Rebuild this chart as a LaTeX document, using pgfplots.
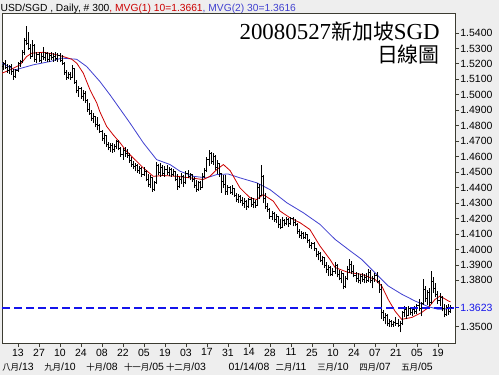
\documentclass[border=0pt]{standalone}
\usepackage{fontspec}
\setmainfont{Liberation Sans}
\newfontfamily\cjk{Noto Sans CJK TC}
\newfontfamily\serif{Liberation Serif}
\usepackage{pgfplots}
\pgfplotsset{compat=1.18}
\usepackage{pgfplotstable}
\definecolor{bgc}{RGB}{238,238,238}
\definecolor{framec}{RGB}{60,60,50}
\definecolor{mared}{RGB}{204,0,0}
\definecolor{mablue}{RGB}{64,64,208}
\definecolor{dashc}{RGB}{20,20,235}
\pgfdeclareplotmark{ohlcopen}{\pgfpathmoveto{\pgfqpoint{-1.6bp}{0pt}}\pgfpathlineto{\pgfqpoint{0pt}{0pt}}\pgfusepathqstroke}
\pgfdeclareplotmark{ohlcclose}{\pgfpathmoveto{\pgfqpoint{0pt}{0pt}}\pgfpathlineto{\pgfqpoint{1.6bp}{0pt}}\pgfusepathqstroke}
\pgfdeclareplotmark{nothing}{}

\pgfplotstableread{
x o h l c
-7 1.5180 1.5215 1.5160 1.5200
-6 1.5200 1.5226 1.5170 1.5175
-5 1.5175 1.5200 1.5140 1.5160
-4 1.5160 1.5195 1.5135 1.5185
-3 1.5185 1.5200 1.5130 1.5150
-2 1.5150 1.5165 1.5097 1.5120
-1 1.5120 1.5170 1.5110 1.5160
0 1.5160 1.5215 1.5150 1.5205
1 1.5205 1.5226 1.5180 1.5215
2 1.5215 1.5290 1.5205 1.5275
3 1.5275 1.5368 1.5258 1.5350
4 1.5350 1.5445 1.5323 1.5330
5 1.5330 1.5407 1.5290 1.5300
6 1.5300 1.5329 1.5232 1.5250
7 1.5250 1.5355 1.5245 1.5320
8 1.5320 1.5330 1.5213 1.5230
9 1.5230 1.5277 1.5206 1.5260
10 1.5260 1.5275 1.5210 1.5225
11 1.5225 1.5270 1.5206 1.5250
12 1.5250 1.5310 1.5226 1.5240
13 1.5240 1.5277 1.5220 1.5265
14 1.5265 1.5275 1.5215 1.5230
15 1.5230 1.5270 1.5213 1.5255
16 1.5255 1.5277 1.5225 1.5240
17 1.5240 1.5268 1.5215 1.5250
18 1.5250 1.5275 1.5220 1.5235
19 1.5235 1.5270 1.5213 1.5255
20 1.5255 1.5270 1.5215 1.5225
21 1.5225 1.5258 1.5194 1.5205
22 1.5205 1.5210 1.5129 1.5145
23 1.5145 1.5160 1.5097 1.5110
24 1.5110 1.5148 1.5100 1.5130
25 1.5130 1.5145 1.5097 1.5115
26 1.5115 1.5194 1.5110 1.5170
27 1.5170 1.5175 1.5070 1.5080
28 1.5080 1.5097 1.5010 1.5030
29 1.5030 1.5060 1.4987 1.5040
30 1.5040 1.5050 1.4975 1.4990
31 1.4990 1.5032 1.4960 1.5010
32 1.5010 1.5025 1.4948 1.4960
33 1.4960 1.4970 1.4890 1.4905
34 1.4905 1.4948 1.4870 1.4880
35 1.4880 1.4900 1.4830 1.4845
36 1.4845 1.4880 1.4819 1.4860
37 1.4860 1.4865 1.4790 1.4810
38 1.4810 1.4858 1.4770 1.4800
39 1.4800 1.4810 1.4755 1.4765
40 1.4765 1.4774 1.4700 1.4715
41 1.4715 1.4750 1.4680 1.4735
42 1.4735 1.4740 1.4665 1.4680
43 1.4680 1.4697 1.4640 1.4660
44 1.4660 1.4690 1.4630 1.4675
45 1.4675 1.4690 1.4626 1.4645
46 1.4645 1.4680 1.4630 1.4665
47 1.4665 1.4710 1.4650 1.4695
48 1.4695 1.4705 1.4640 1.4650
49 1.4650 1.4665 1.4600 1.4615
50 1.4615 1.4658 1.4581 1.4640
51 1.4640 1.4660 1.4600 1.4620
52 1.4620 1.4650 1.4594 1.4610
53 1.4610 1.4626 1.4560 1.4575
54 1.4575 1.4600 1.4535 1.4550
55 1.4550 1.4575 1.4520 1.4535
56 1.4535 1.4561 1.4505 1.4545
57 1.4545 1.4555 1.4497 1.4510
58 1.4510 1.4540 1.4490 1.4525
59 1.4525 1.4535 1.4471 1.4485
60 1.4485 1.4530 1.4475 1.4505
61 1.4505 1.4516 1.4440 1.4455
62 1.4455 1.4490 1.4406 1.4420
63 1.4420 1.4484 1.4400 1.4465
64 1.4465 1.4470 1.4374 1.4390
65 1.4390 1.4440 1.4380 1.4430
66 1.4430 1.4568 1.4425 1.4540
67 1.4540 1.4555 1.4480 1.4495
68 1.4495 1.4561 1.4471 1.4530
69 1.4530 1.4548 1.4475 1.4490
70 1.4490 1.4540 1.4471 1.4520
71 1.4520 1.4545 1.4480 1.4500
72 1.4500 1.4535 1.4475 1.4515
73 1.4515 1.4529 1.4471 1.4485
74 1.4485 1.4520 1.4475 1.4505
75 1.4505 1.4510 1.4440 1.4455
76 1.4455 1.4490 1.4387 1.4410
77 1.4410 1.4470 1.4400 1.4455
78 1.4455 1.4497 1.4420 1.4470
79 1.4470 1.4480 1.4406 1.4430
80 1.4430 1.4505 1.4420 1.4490
81 1.4490 1.4516 1.4460 1.4470
82 1.4470 1.4497 1.4452 1.4485
83 1.4485 1.4490 1.4439 1.4455
84 1.4455 1.4471 1.4400 1.4415
85 1.4415 1.4450 1.4374 1.4390
86 1.4390 1.4445 1.4380 1.4430
87 1.4430 1.4440 1.4385 1.4400
88 1.4400 1.4497 1.4395 1.4470
89 1.4470 1.4529 1.4460 1.4510
90 1.4510 1.4600 1.4500 1.4580
91 1.4580 1.4645 1.4540 1.4620
92 1.4620 1.4630 1.4555 1.4570
93 1.4570 1.4625 1.4545 1.4600
94 1.4600 1.4610 1.4516 1.4530
95 1.4530 1.4581 1.4490 1.4555
96 1.4555 1.4560 1.4471 1.4490
97 1.4490 1.4497 1.4368 1.4440
98 1.4440 1.4480 1.4400 1.4420
99 1.4420 1.4484 1.4355 1.4375
100 1.4375 1.4419 1.4355 1.4400
101 1.4400 1.4410 1.4360 1.4370
102 1.4370 1.4415 1.4355 1.4395
103 1.4395 1.4400 1.4340 1.4350
104 1.4350 1.4368 1.4310 1.4325
105 1.4325 1.4360 1.4303 1.4340
106 1.4340 1.4350 1.4300 1.4315
107 1.4315 1.4342 1.4280 1.4300
108 1.4300 1.4330 1.4271 1.4310
109 1.4310 1.4320 1.4258 1.4280
110 1.4280 1.4335 1.4270 1.4320
111 1.4320 1.4340 1.4275 1.4290
112 1.4290 1.4330 1.4265 1.4305
113 1.4305 1.4320 1.4271 1.4285
114 1.4285 1.4432 1.4280 1.4400
115 1.4400 1.4420 1.4323 1.4350
116 1.4350 1.4548 1.4345 1.4470
117 1.4470 1.4480 1.4300 1.4330
118 1.4330 1.4368 1.4260 1.4280
119 1.4280 1.4300 1.4245 1.4260
120 1.4260 1.4271 1.4200 1.4215
121 1.4215 1.4250 1.4190 1.4235
122 1.4235 1.4245 1.4180 1.4195
123 1.4195 1.4230 1.4174 1.4210
124 1.4210 1.4215 1.4140 1.4160
125 1.4160 1.4194 1.4129 1.4145
126 1.4145 1.4213 1.4140 1.4190
127 1.4190 1.4200 1.4150 1.4165
128 1.4165 1.4210 1.4155 1.4195
129 1.4195 1.4205 1.4148 1.4170
130 1.4170 1.4213 1.4160 1.4200
131 1.4200 1.4210 1.4150 1.4175
132 1.4175 1.4200 1.4150 1.4160
133 1.4160 1.4170 1.4100 1.4115
134 1.4115 1.4129 1.4075 1.4090
135 1.4090 1.4120 1.4070 1.4105
136 1.4105 1.4115 1.4065 1.4080
137 1.4080 1.4110 1.4070 1.4095
138 1.4095 1.4100 1.4040 1.4055
139 1.4055 1.4065 1.4010 1.4025
140 1.4025 1.4050 1.4000 1.4040
141 1.4040 1.4045 1.3990 1.4005
142 1.4005 1.4010 1.3950 1.3965
143 1.3965 1.3990 1.3930 1.3975
144 1.3975 1.3985 1.3916 1.3930
145 1.3930 1.3960 1.3900 1.3945
146 1.3945 1.3950 1.3880 1.3895
147 1.3895 1.3922 1.3850 1.3870
148 1.3870 1.3900 1.3830 1.3885
149 1.3885 1.3895 1.3826 1.3840
150 1.3840 1.3880 1.3830 1.3860
151 1.3860 1.3916 1.3840 1.3895
152 1.3895 1.3905 1.3819 1.3835
153 1.3835 1.3870 1.3800 1.3815
154 1.3815 1.3860 1.3780 1.3845
155 1.3845 1.3850 1.3742 1.3760
156 1.3760 1.3830 1.3750 1.3815
157 1.3815 1.3890 1.3800 1.3870
158 1.3870 1.3935 1.3850 1.3905
159 1.3905 1.3925 1.3840 1.3860
160 1.3860 1.3900 1.3819 1.3830
161 1.3830 1.3851 1.3790 1.3815
162 1.3815 1.3845 1.3780 1.3800
163 1.3800 1.3840 1.3774 1.3825
164 1.3825 1.3845 1.3790 1.3805
165 1.3805 1.3840 1.3780 1.3820
166 1.3820 1.3850 1.3785 1.3800
167 1.3800 1.3871 1.3790 1.3850
168 1.3850 1.3865 1.3780 1.3800
169 1.3800 1.3830 1.3748 1.3815
170 1.3815 1.3845 1.3790 1.3830
171 1.3830 1.3855 1.3780 1.3790
172 1.3790 1.3800 1.3720 1.3740
173 1.3740 1.3774 1.3548 1.3590
174 1.3590 1.3610 1.3540 1.3560
175 1.3560 1.3590 1.3515 1.3575
176 1.3575 1.3580 1.3503 1.3520
177 1.3520 1.3548 1.3500 1.3535
178 1.3535 1.3545 1.3497 1.3515
179 1.3515 1.3540 1.3500 1.3530
180 1.3530 1.3560 1.3505 1.3520
181 1.3520 1.3548 1.3497 1.3510
182 1.3510 1.3535 1.3464 1.3520
183 1.3520 1.3600 1.3510 1.3590
184 1.3590 1.3632 1.3560 1.3610
185 1.3610 1.3625 1.3548 1.3570
186 1.3570 1.3632 1.3568 1.3615
187 1.3615 1.3630 1.3575 1.3595
188 1.3595 1.3625 1.3570 1.3610
189 1.3610 1.3632 1.3580 1.3600
190 1.3600 1.3650 1.3580 1.3635
191 1.3635 1.3677 1.3600 1.3615
192 1.3615 1.3660 1.3568 1.3650
193 1.3650 1.3806 1.3640 1.3740
194 1.3740 1.3761 1.3660 1.3680
195 1.3680 1.3740 1.3640 1.3720
196 1.3720 1.3750 1.3632 1.3660
197 1.3660 1.3858 1.3650 1.3790
198 1.3790 1.3819 1.3720 1.3750
199 1.3750 1.3780 1.3690 1.3710
200 1.3710 1.3729 1.3650 1.3670
201 1.3670 1.3720 1.3632 1.3690
202 1.3690 1.3700 1.3600 1.3615
203 1.3615 1.3645 1.3561 1.3580
204 1.3580 1.3640 1.3570 1.3625
205 1.3625 1.3645 1.3575 1.3600
206 1.3600 1.3640 1.3590 1.3623
}\ohlc

\begin{document}
\begin{tikzpicture}
\fill[bgc] (0,0) rectangle (499bp,-375bp);
\begin{axis}[
  at={(2bp,-13bp)}, anchor=north west,
  scale only axis, width=453bp, height=330bp,
  xmin=-7.62, xmax=208.1, ymin=1.3395, ymax=1.5529,
  axis background/.style={fill=white},
  axis line style={draw=framec, line width=0.9bp},
  every tick/.style={draw=framec, line width=0.8bp},
  tick align=outside, major tick length=4bp,
  xtick pos=bottom, ytick pos=right, yticklabel pos=right,
  ytick={1.35,1.38,1.39,1.40,1.41,1.42,1.43,1.44,1.45,1.46,1.47,1.48,1.49,1.50,1.51,1.52,1.53,1.54},
  scaled y ticks=false,
  extra y ticks={1.3623},
  extra y tick style={every tick/.style={draw=dashc, line width=0.8bp}, tick label style={text=dashc}},
  y tick label style={font=\fontsize{10.5}{12}\selectfont, inner sep=1.2bp,
    /pgf/number format/fixed, /pgf/number format/fixed zerofill,
    /pgf/number format/precision=4, /pgf/number format/assume math mode=true},
  xtick={0,10,...,200},
  xticklabels={{13\\{\cjk\fontsize{8.5}{10}\selectfont 八月}/13},27,
    {10\\{\cjk\fontsize{8.5}{10}\selectfont 九月}/10},24,
    {08\\{\cjk\fontsize{8.5}{10}\selectfont 十月}/08},22,
    {05\\{\cjk\fontsize{8.5}{10}\selectfont 十一月}/05},19,
    {03\\{\cjk\fontsize{8.5}{10}\selectfont 十二月}/03},17,31,
    {14\\01/14/08},28,
    {11\\{\cjk\fontsize{8.5}{10}\selectfont 二月}/11},25,
    {10\\{\cjk\fontsize{8.5}{10}\selectfont 三月}/10},24,
    {07\\{\cjk\fontsize{8.5}{10}\selectfont 四月}/07},21,
    {05\\{\cjk\fontsize{8.5}{10}\selectfont 五月}/05},19},
  x tick label style={font=\fontsize{10.5}{15}\selectfont, align=center, inner sep=1.5bp},
]
% moving averages
\addplot[draw=mablue, line width=0.8bp] coordinates {
(-7.6,1.5204) (-1.4,1.5161) (7.3,1.5194) (15.2,1.5215) (20.8,1.5237) (27.9,1.5230)
(32.7,1.5183) (39,1.5086) (43.8,1.5000) (48.6,1.4908) (53.3,1.4818) (59.7,1.4689)
(66,1.4581) (72.4,1.4549) (77.1,1.4506) (83.5,1.4473) (89.8,1.4463) (94.6,1.4484)
(100,1.4488) (105.7,1.4463) (113.7,1.4431) (120,1.4387) (128,1.4302) (135.9,1.4237)
(143.8,1.4162) (151,1.4065) (157.3,1.4000) (163.7,1.3935) (170,1.3849) (176.3,1.3764)
(182.7,1.3711) (189,1.3667) (195.4,1.3630) (200.1,1.3613) (205.7,1.3617) (206,1.3616)};
\addplot[draw=mared, line width=0.8bp] coordinates {
(-7.6,1.5140) (-3.8,1.5161) (1,1.5194) (4.1,1.5247) (6.5,1.5269) (12,1.5275)
(16.8,1.5264) (21.6,1.5247) (25.6,1.5230) (28,1.5204) (31.1,1.5140) (34.3,1.5032)
(37.5,1.4947) (39,1.4890) (42.2,1.4796) (45.4,1.4740) (48.6,1.4690) (51.7,1.4634)
(55,1.4590) (59.7,1.4527) (64.4,1.4473) (69.2,1.4478) (75.6,1.4473) (81.9,1.4463)
(88.2,1.4452) (91.4,1.4473) (94.6,1.4516) (97.8,1.4549) (101,1.4510) (105.7,1.4398)
(110.5,1.4334) (113.7,1.4323) (116.8,1.4355) (121.6,1.4312) (124.8,1.4248) (129.5,1.4205)
(134.3,1.4173) (139,1.4129) (143.8,1.4022) (148.6,1.3935) (151,1.3883) (157.3,1.3851)
(163.7,1.3839) (170,1.3806) (173.2,1.3764) (176.3,1.3677) (179.5,1.3602) (182.7,1.3548)
(187.5,1.3560) (192.2,1.3592) (195.4,1.3624) (198.6,1.3677) (201,1.3699) (204.9,1.3667)
(206,1.3661)};
% OHLC bars
\addplot[black, line width=1bp, only marks, mark=nothing,
  error bars/.cd, y dir=plus, y explicit, error mark=none,
  error bar style={draw=black, line width=1bp}]
  table[x=x, y=l, y error expr={\thisrow{h}-\thisrow{l}}] {\ohlc};
\addplot[black, line width=1bp, only marks, mark=ohlcopen] table[x=x, y=o] {\ohlc};
\addplot[black, line width=1bp, only marks, mark=ohlcclose] table[x=x, y=c] {\ohlc};
% dashed last-price line
\addplot[draw=dashc, line width=2bp, dash pattern=on 8bp off 4bp] coordinates {(-7.62,1.3623) (208.1,1.3623)};
\end{axis}
\node[anchor=base west, inner sep=0, font=\fontsize{10.3}{12}\selectfont] at (0.5bp,-11bp)
  {USD/SGD , Daily, \# 300\textcolor{mared}{, MVG(1) 10=1.3661}\textcolor{mablue}{, MVG(2) 30=1.3616}};
\node[anchor=base east, inner sep=0] at (440bp,-39bp)
  {\serif\fontsize{23}{26}\selectfont 20080527{\cjk\fontsize{21}{24}\selectfont 新加坡}SGD};
\node[anchor=base east, inner sep=0] at (440bp,-62bp)
  {\cjk\fontsize{21}{24}\selectfont 日線圖};
\pgfresetboundingbox
\path (0,0) rectangle (499bp,-375bp);
\end{tikzpicture}
\end{document}
